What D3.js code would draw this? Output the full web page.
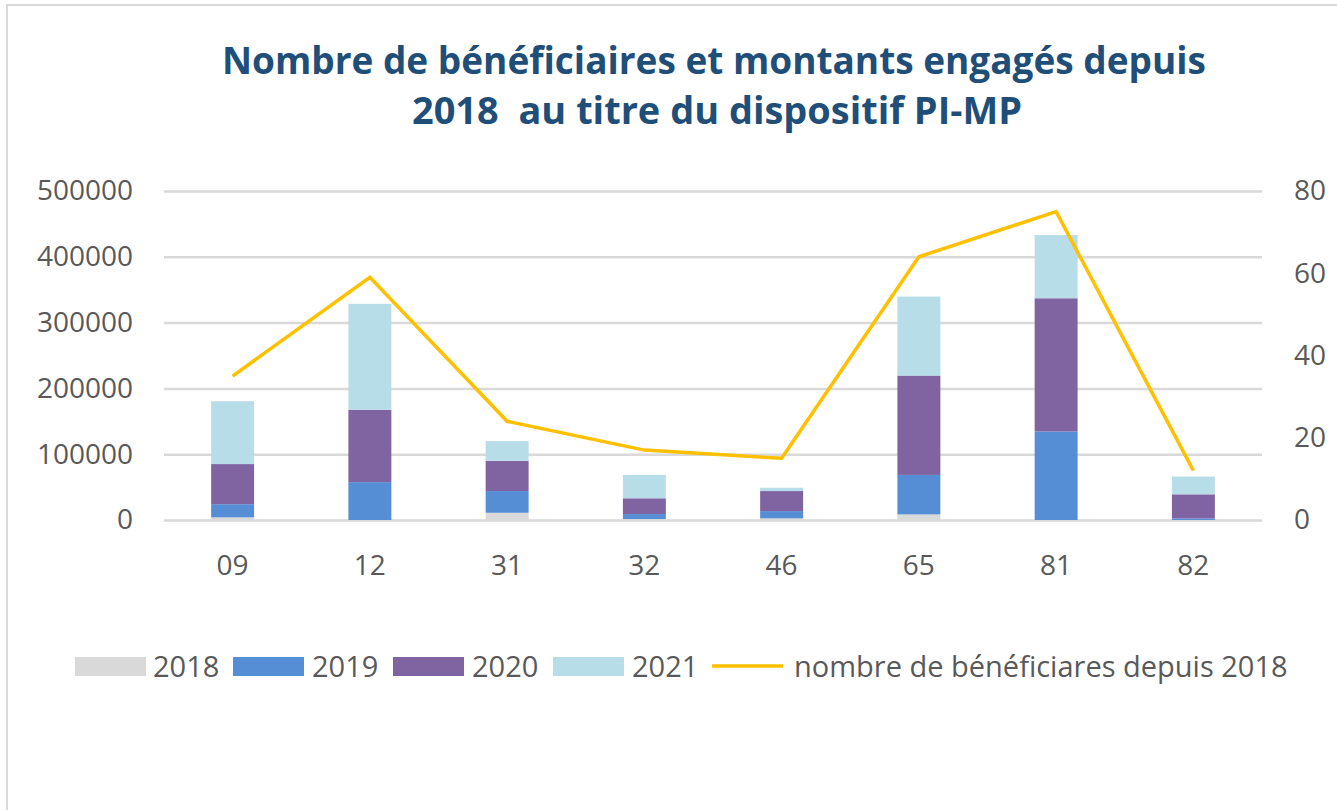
<!DOCTYPE html>
<html>
<head>
<meta charset="utf-8">
<script src="https://cdn.jsdelivr.net/npm/d3@7"></script>
<style>
  body { margin: 0; background: #fff; }
  svg { display: block; }
  text { font-family: "Open Sans", "DejaVu Sans", sans-serif; }
</style>
</head>
<body>
<svg id="chart" width="1337" height="810"></svg>
<script>
// departements
const categories = ["09", "12", "31", "32", "46", "65", "81", "82"];
const years = ["2018", "2019", "2020", "2021"];

// montants engages par annee
const v2018 = [4000, 0, 11000, 1500, 2500, 8500, 0, 0];
const v2019 = [20000, 57500, 33000, 7500, 11000, 60000, 134500, 2500];
const v2020 = [61000, 110000, 46000, 24000, 30500, 151000, 202500, 36500];
const v2021 = [95500, 161000, 30000, 35500, 5000, 120000, 96000, 27000];

// nombre de beneficiaires depuis 2018
const beneficiaires = [35, 59, 24, 17, 15, 64, 75, 12];

const leftTicks = [0, 100000, 200000, 300000, 400000, 500000];
const rightTicks = [0, 20, 40, 60, 80];

const colors = {"2018": "#d9d9d9", "2019": "#558ed5", "2020": "#8064a2", "2021": "#b7dde8"};
const lineColor = "#ffc000";
const labelColor = "#595959";

const svg = d3.select("#chart");
const margin = { left: 164, right: 1262, top: 191, bottom: 520 };

// chart border
svg.append("rect")
    .attr("x", 7).attr("y", 5)
    .attr("width", 1345).attr("height", 820)
    .attr("fill", "#fff")
    .attr("stroke", "#d9d9d9")
    .attr("stroke-width", 2);

// title
const title = svg.append("g").attr("fill", "#1f4e79")
    .attr("font-weight", "bold").attr("font-size", 38);
title.append("text")
    .attr("x", 714).attr("y", 74)
    .attr("text-anchor", "middle")
    .attr("textLength", 984).attr("lengthAdjust", "spacingAndGlyphs")
    .text("Nombre de bénéficiaires et montants engagés depuis");
title.append("text")
    .attr("x", 717).attr("y", 124)
    .attr("text-anchor", "middle")
    .style("white-space", "pre")
    .attr("textLength", 610).attr("lengthAdjust", "spacingAndGlyphs")
    .text("2018  au titre du dispositif PI-MP");

const x = d3.scaleBand()
    .domain(categories)
    .range([margin.left, margin.right])
    .paddingInner(0.687)
    .paddingOuter(0.3435);

const y = d3.scaleLinear().domain([0, 500000]).range([margin.bottom, margin.top]);
const y2 = d3.scaleLinear().domain([0, 80]).range([margin.bottom, margin.top]);

// gridlines
svg.append("g")
    .attr("transform", "translate(" + margin.left + ",0)")
    .call(d3.axisLeft(y).tickValues(leftTicks).tickSize(-(margin.right - margin.left)).tickFormat(""))
    .call(g => g.select(".domain").remove())
    .call(g => g.selectAll("line").attr("stroke", "#d9d9d9").attr("stroke-width", 2.5));

// left axis
svg.append("g")
    .attr("transform", "translate(" + margin.left + ",0)")
    .call(d3.axisLeft(y).tickValues(leftTicks).tickSize(0).tickPadding(31).tickFormat(d3.format("d")))
    .call(g => g.select(".domain").remove())
    .call(g => g.selectAll("text").attr("fill", labelColor).attr("font-size", 28)
        .style("font-family", '"Open Sans", sans-serif'));

// right axis
svg.append("g")
    .attr("transform", "translate(" + margin.right + ",0)")
    .call(d3.axisRight(y2).tickValues(rightTicks).tickSize(0).tickPadding(32))
    .call(g => g.select(".domain").remove())
    .call(g => g.selectAll("text").attr("fill", labelColor).attr("font-size", 28)
        .style("font-family", '"Open Sans", sans-serif'));

// x axis
svg.append("g")
    .attr("transform", "translate(0," + margin.bottom + ")")
    .call(d3.axisBottom(x).tickSize(0).tickPadding(35))
    .call(g => g.select(".domain").remove())
    .call(g => g.selectAll("text").attr("fill", labelColor).attr("font-size", 28)
        .style("font-family", '"Open Sans", sans-serif'));

// stacked bars
const table = categories.map((c, i) => ({
    cat: c, "2018": v2018[i], "2019": v2019[i], "2020": v2020[i], "2021": v2021[i]
}));
const series = d3.stack().keys(years)(table);

svg.append("g").selectAll("g")
    .data(series)
    .enter().append("g")
    .attr("fill", d => colors[d.key])
    .selectAll("rect")
    .data(d => d)
    .enter().append("rect")
    .attr("x", d => x(d.data.cat))
    .attr("y", d => y(d[1]))
    .attr("width", x.bandwidth())
    .attr("height", d => y(d[0]) - y(d[1]));

// line
const line = d3.line()
    .x((d, i) => x(categories[i]) + x.bandwidth() / 2)
    .y(d => y2(d));

svg.append("path")
    .datum(beneficiaires)
    .attr("fill", "none")
    .attr("stroke", lineColor)
    .attr("stroke-width", 3.5)
    .attr("stroke-linejoin", "miter")
    .attr("d", line);

// legend
const legendItems = [
    { label: "2018", type: "rect", color: colors["2018"], sx: 75, tx: 153 },
    { label: "2019", type: "rect", color: colors["2019"], sx: 233, tx: 312 },
    { label: "2020", type: "rect", color: colors["2020"], sx: 393, tx: 472 },
    { label: "2021", type: "rect", color: colors["2021"], sx: 553, tx: 632 },
    { label: "nombre de bénéficiares depuis 2018", type: "line", color: lineColor, sx: 712, tx: 794 }
];
const legend = svg.append("g");
legendItems.forEach(it => {
    if (it.type === "rect") {
        legend.append("rect")
            .attr("x", it.sx).attr("y", 657)
            .attr("width", 71).attr("height", 19)
            .attr("fill", it.color);
    } else {
        legend.append("line")
            .attr("x1", it.sx).attr("x2", it.sx + 71)
            .attr("y1", 666).attr("y2", 666)
            .attr("stroke", it.color).attr("stroke-width", 3.5);
    }
    legend.append("text")
        .attr("x", it.tx).attr("y", 677)
        .attr("fill", labelColor).attr("font-size", 29)
        .text(it.label);
});
</script>
</body>
</html>
